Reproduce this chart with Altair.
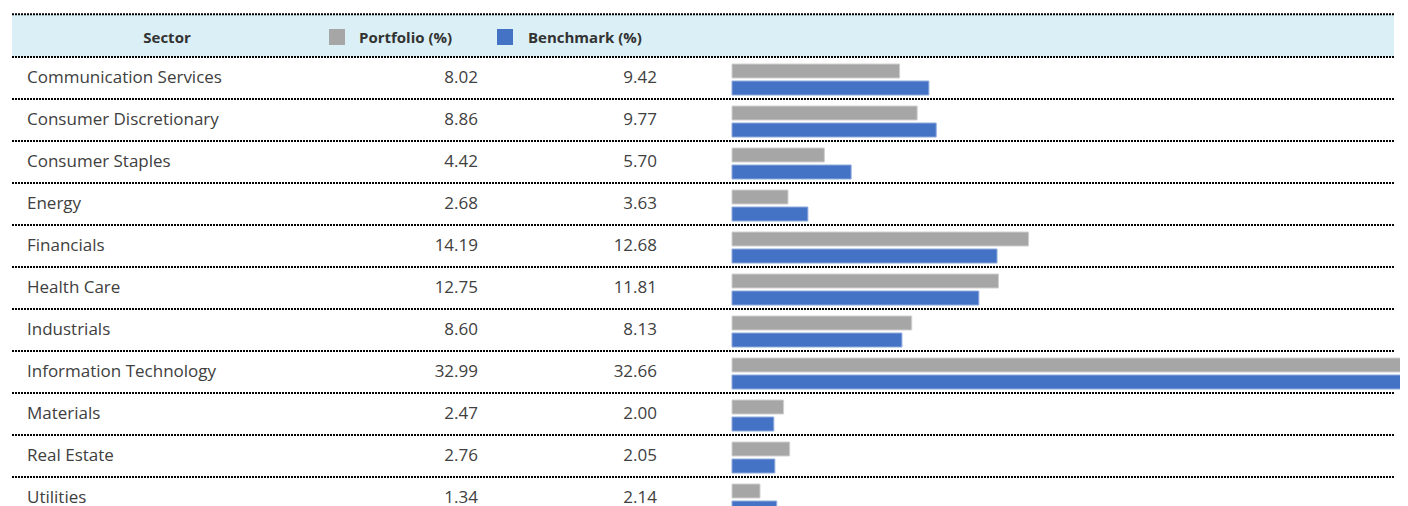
import altair as alt
import pandas as pd

sectors = ["Communication Services", "Consumer Discretionary", "Consumer Staples", "Energy",
           "Financials", "Health Care", "Industrials", "Information Technology",
           "Materials", "Real Estate", "Utilities"]
portfolio = [8.02, 8.86, 4.42, 2.68, 14.19, 12.75, 8.60, 32.99, 2.47, 2.76, 1.34]
benchmark = [9.42, 9.77, 5.70, 3.63, 12.68, 11.81, 8.13, 32.66, 2.00, 2.05, 2.14]
series_names = ["Portfolio (%)", "Benchmark (%)"]
series_colors = ["#A6A6A6", "#4472C4"]
header_label = "Sector"

W, H = 1392, 498
ROW = 42.0
TOP = 49.0
PX_PER_UNIT = 20.9
X0 = 724.0

rows = list(range(len(sectors)))
df = pd.DataFrame({
    "sector": sectors,
    "row": rows,
    "portfolio": portfolio,
    "benchmark": benchmark,
    "plabel": [f"{v:.2f}" for v in portfolio],
    "blabel": [f"{v:.2f}" for v in benchmark],
})
df["mid"] = df["row"] + 0.5
df["p_top"] = df["row"] + 7 / ROW
df["p_bot"] = df["row"] + 21 / ROW
df["b_top"] = df["row"] + 24 / ROW
df["b_bot"] = df["row"] + 38 / ROW
df["zero"] = 0.0

yscale = alt.Scale(domain=[-TOP / ROW, (H - TOP) / ROW], range=[0, H], nice=False, zero=False)
xscale = alt.Scale(domain=[-X0 / PX_PER_UNIT, (W - X0) / PX_PER_UNIT], range=[0, W], nice=False, zero=False)

FONT = "Open Sans"
HFONT = "Open Sans"
TXT = "#404040"
HTXT = "#333333"

base = alt.Chart(df)

header_df = pd.DataFrame({"top": [-1.02], "bot": [0.0], "mid": [-0.5]})
header_bg = alt.Chart(header_df).mark_rect(color="#DAF0F6").encode(
    x=alt.value(4), x2=alt.value(1386),
    y=alt.Y("top:Q", scale=yscale, axis=None), y2="bot:Q")

sep_df = pd.DataFrame({"y": [-1.02] + [float(i) for i in range(len(sectors))]})
seps = alt.Chart(sep_df).mark_rule(color="#000000", strokeWidth=2, strokeDash=[2, 1]).encode(
    x=alt.value(4), x2=alt.value(1386),
    y=alt.Y("y:Q", scale=yscale, axis=None))

hdr_text = alt.Chart(header_df).mark_text(font=HFONT, fontSize=15, fontWeight="bold", color=HTXT,
                                           align="center", baseline="middle", dy=2).encode(
    x=alt.value(159), y=alt.Y("mid:Q", scale=yscale, axis=None), text=alt.value(header_label))

legend_df = pd.DataFrame({
    "name": series_names, "color": series_colors,
    "sx": [321, 489], "tx": [351, 520],
    "top": [-0.5 - 7 / ROW, -0.5 - 7 / ROW], "bot": [-0.5 + 9 / ROW, -0.5 + 9 / ROW], "mid": [-0.5, -0.5],
})
leg_sw = []
leg_tx = []
for i in range(2):
    d = legend_df.iloc[[i]]
    leg_sw.append(alt.Chart(d).mark_rect(color=series_colors[i]).encode(
        x=alt.value(int(d["sx"].iloc[0])), x2=alt.value(int(d["sx"].iloc[0]) + 16),
        y=alt.Y("top:Q", scale=yscale, axis=None), y2="bot:Q"))
    leg_tx.append(alt.Chart(d).mark_text(font=HFONT, fontSize=15, fontWeight="bold", color=HTXT,
                                         align="left", baseline="middle", dy=2).encode(
        x=alt.value(int(d["tx"].iloc[0])), y=alt.Y("mid:Q", scale=yscale, axis=None), text="name:N"))

sector_text = base.mark_text(font=FONT, fontSize=17, color=TXT, align="left", baseline="middle").encode(
    x=alt.value(19), y=alt.Y("mid:Q", scale=yscale, axis=None), text="sector:N")
p_text = base.mark_text(font=FONT, fontSize=17, color=TXT, align="right", baseline="middle").encode(
    x=alt.value(470), y=alt.Y("mid:Q", scale=yscale, axis=None), text="plabel:N")
b_text = base.mark_text(font=FONT, fontSize=17, color=TXT, align="right", baseline="middle").encode(
    x=alt.value(649), y=alt.Y("mid:Q", scale=yscale, axis=None), text="blabel:N")

p_bars = base.mark_bar(color=series_colors[0], stroke="#D0D0D0", strokeWidth=1, clip=True).encode(
    x=alt.X("zero:Q", scale=xscale, axis=None), x2="portfolio:Q",
    y=alt.Y("p_top:Q", scale=yscale, axis=None), y2="p_bot:Q")
b_bars = base.mark_bar(color=series_colors[1], stroke="#8FAADC", strokeWidth=1, clip=True).encode(
    x=alt.X("zero:Q", scale=xscale, axis=None), x2="benchmark:Q",
    y=alt.Y("b_top:Q", scale=yscale, axis=None), y2="b_bot:Q")

chart = alt.layer(
    header_bg, seps, hdr_text, *leg_sw, *leg_tx, sector_text, p_text, b_text, p_bars, b_bars
).properties(
    width=W, height=H, autosize=alt.AutoSizeParams(type="none"), padding=0, background="white"
).configure_view(stroke=None)

chart.save("out.html", embed_options={"renderer": "svg", "actions": False})
